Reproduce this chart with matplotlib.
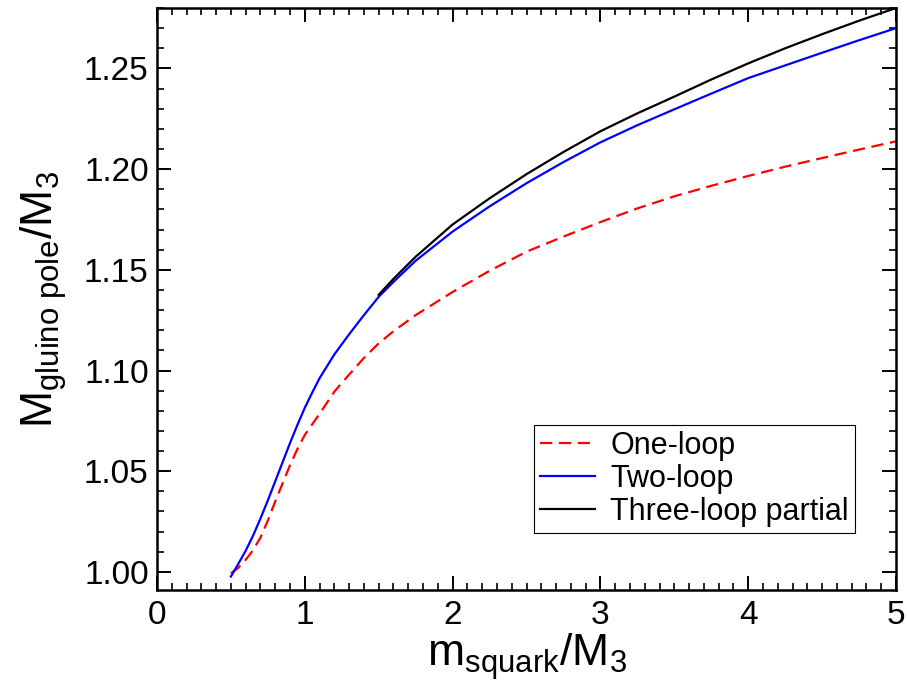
import matplotlib
matplotlib.use("Agg")
import matplotlib.pyplot as plt
from matplotlib.ticker import MultipleLocator, FormatStrFormatter

plt.rcParams['font.family'] = ['Liberation Sans', 'DejaVu Sans']
plt.rcParams['mathtext.fontset'] = 'custom'
plt.rcParams['mathtext.rm'] = 'Liberation Sans'
plt.rcParams['mathtext.it'] = 'Liberation Sans'

# one-loop (red dashed)
x_one = [0.5, 0.55, 0.6, 0.65, 0.7, 0.75, 0.8, 0.85, 0.9, 0.95, 1.0, 1.1,
         1.2, 1.3, 1.4, 1.5, 1.6, 1.75, 2.0, 2.25, 2.5, 2.75, 3.0, 3.25,
         3.5, 3.75, 4.0, 4.25, 4.5, 4.75, 5.0]
y_one = [0.9993, 1.002, 1.006, 1.0108, 1.017, 1.0255, 1.035, 1.044, 1.053,
         1.061, 1.068, 1.0785, 1.0895, 1.098, 1.1062, 1.1135, 1.1195, 1.1275,
         1.139, 1.1495, 1.159, 1.1665, 1.1737, 1.1805, 1.1865, 1.1917, 1.1966,
         1.2012, 1.2055, 1.2097, 1.2138]

# two-loop (blue)
x_two = [0.5, 0.55, 0.6, 0.65, 0.7, 0.75, 0.8, 0.85, 0.9, 0.95, 1.0, 1.05,
         1.1, 1.2, 1.3, 1.4, 1.5, 1.6, 1.75, 2.0, 2.25, 2.5, 2.75, 3.0, 3.25,
         3.5, 3.75, 4.0, 4.25, 4.5, 4.75, 5.0]
y_two = [0.9977, 1.004, 1.0105, 1.018, 1.0265, 1.0355, 1.045, 1.0545, 1.064,
         1.073, 1.0815, 1.089, 1.0962, 1.108, 1.118, 1.1275, 1.1366, 1.1440,
         1.1545, 1.169, 1.1815, 1.193, 1.2035, 1.2133, 1.2218, 1.2297, 1.2375,
         1.2452, 1.2515, 1.2578, 1.264, 1.270]

# three-loop partial (black)
x_three = [1.5, 1.6, 1.75, 2.0, 2.25, 2.5, 2.75, 3.0, 3.25, 3.5, 3.75, 4.0,
           4.25, 4.5, 4.75, 5.0]
y_three = [1.1376, 1.1455, 1.1565, 1.1725, 1.1855, 1.1975, 1.2085, 1.2188,
           1.2277, 1.236, 1.2445, 1.2525, 1.260, 1.267, 1.2737, 1.280]

fig = plt.figure(figsize=(9.07, 6.97), dpi=100)
ax = fig.add_axes([0.1731, 0.1535, 0.8148, 0.835])

ax.plot(x_one, y_one, color='red', lw=1.6, dashes=(5.5, 3), label='One-loop')
ax.plot(x_two, y_two, color='blue', lw=1.6, label='Two-loop')
ax.plot(x_three, y_three, color='black', lw=1.6, label='Three-loop partial')

ax.set_xlim(0, 5)
ax.set_ylim(0.991, 1.28)
ax.xaxis.set_major_locator(MultipleLocator(1))
ax.xaxis.set_minor_locator(MultipleLocator(0.1))
ax.yaxis.set_major_locator(MultipleLocator(0.05))
ax.yaxis.set_minor_locator(MultipleLocator(0.01))
ax.yaxis.set_major_formatter(FormatStrFormatter('%.2f'))

ax.tick_params(which='both', direction='in', top=True, right=True)
ax.tick_params(which='major', length=10, width=1.4, labelsize=24, pad=6)
ax.tick_params(which='minor', length=5, width=1.2)
ax.tick_params(axis='x', which='major', pad=7)
for s in ax.spines.values():
    s.set_linewidth(1.8)

ax.set_xlabel(r'$\mathregular{m_{squark}/M_3}$', fontsize=32, labelpad=0)
ax.set_ylabel(r'$\mathregular{M_{gluino\ pole}/M_3}$', fontsize=32, labelpad=11)

leg = ax.legend(loc='lower right', bbox_to_anchor=(0.944, 0.098),
                borderaxespad=0, fontsize=22, handlelength=1.8,
                fancybox=False, framealpha=1, edgecolor='black',
                borderpad=0.2, labelspacing=0.1, handletextpad=0.5)
leg.get_frame().set_linewidth(0.8)

fig.savefig('out.png', dpi=100)
